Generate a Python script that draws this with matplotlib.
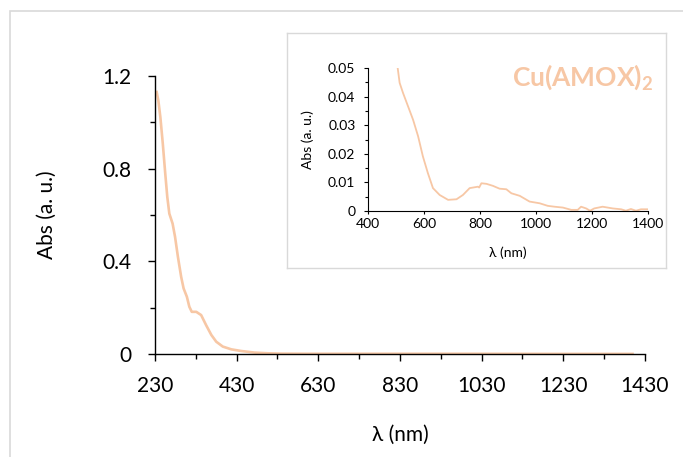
import matplotlib
matplotlib.use("Agg")
import matplotlib.pyplot as plt
from matplotlib.patches import Rectangle
from matplotlib.ticker import MultipleLocator, FuncFormatter

plt.rcParams['font.family'] = ['Lato', 'DejaVu Sans']
plt.rcParams['mathtext.fontset'] = 'custom'
plt.rcParams['mathtext.rm'] = 'Lato'
plt.rcParams['mathtext.bf'] = 'Lato:bold'

# Espectro completo
lam_main = [234, 238, 243, 249, 255, 260, 265, 273, 279, 286, 294, 300, 308,
            314, 320, 331, 343, 355, 368, 380, 396, 417, 441, 474, 507, 540,
            600, 800, 1000, 1200, 1400]
abs_main = [1.131, 1.095, 1.023, 0.908, 0.779, 0.678, 0.606, 0.563, 0.506,
            0.420, 0.333, 0.283, 0.247, 0.204, 0.182, 0.182, 0.168, 0.125,
            0.082, 0.053, 0.032, 0.020, 0.013, 0.006, 0.003, 0.0015,
            0.001, 0.001, 0.001, 0.0005, 0.0005]

# Detalle del recuadro (500-1400 nm)
lam_ins = [506, 513, 525, 543, 561, 579, 596, 614, 632, 656, 686, 716, 739,
           763, 793, 797, 805, 823, 846, 870, 894, 912, 942, 977, 1013, 1042,
           1066, 1096, 1126, 1149, 1161, 1179, 1193, 1208, 1238, 1274, 1304,
           1321, 1339, 1357, 1375, 1399]
abs_ins = [0.0500, 0.0448, 0.0413, 0.0366, 0.0319, 0.0261, 0.0191, 0.0132,
           0.0080, 0.0056, 0.0039, 0.0041, 0.0056, 0.0080, 0.0085, 0.0082,
           0.0097, 0.0095, 0.0088, 0.0078, 0.0076, 0.0062, 0.0053, 0.0033,
           0.0027, 0.0018, 0.0015, 0.0012, 0.0004, 0.0004, 0.0015, 0.0009,
           0.0001, 0.0009, 0.0015, 0.0009, 0.0006, 0.0001, 0.0007, 0.0001,
           0.0006, 0.0006]

color = '#F7C7A5'
grid_grey = '#D9D9D9'

def fmt(v, pos):
    return '0' if abs(v) < 1e-12 else f'{v:g}'

fig = plt.figure(figsize=(6.83, 4.57), dpi=100)

# borde exterior
fig.add_artist(Rectangle((10 / 683, -0.1), 1.2, (457 - 11) / 457 + 0.1,
                         transform=fig.transFigure, fill=False,
                         edgecolor=grid_grey, linewidth=1.2))

# Gráfico principal
ax = fig.add_axes([0.227, 0.2254, 0.717, 0.6083])
ax.plot(lam_main, abs_main, color=color, linewidth=1.9)
ax.set_xlim(230, 1430)
ax.set_ylim(0, 1.2)
ax.xaxis.set_major_locator(MultipleLocator(200, offset=30))
ax.xaxis.set_minor_locator(MultipleLocator(100, offset=30))
ax.yaxis.set_major_locator(MultipleLocator(0.4))
ax.yaxis.set_minor_locator(MultipleLocator(0.2))
ax.yaxis.set_major_formatter(FuncFormatter(fmt))
for s in ['top', 'right']:
    ax.spines[s].set_visible(False)
for s in ['left', 'bottom']:
    ax.spines[s].set_linewidth(1.0)
ax.tick_params(which='major', direction='out', length=4.8, width=1.0,
               labelsize=15)
ax.tick_params(axis='x', which='major', pad=11)
ax.tick_params(axis='y', which='major', pad=12)
ax.tick_params(which='minor', direction='out', length=3.6, width=1.0)
ax.set_xlabel('λ (nm)', fontsize=15, labelpad=21)
ax.set_ylabel('Abs (a. u.)', fontsize=15, labelpad=33)

# Marco del recuadro
frame = fig.add_axes([287 / 683, (457 - 268) / 457, 379 / 683, 235 / 457])
frame.set_xticks([])
frame.set_yticks([])
for s in frame.spines.values():
    s.set_edgecolor(grid_grey)
    s.set_linewidth(1.0)

# Recuadro
axi = fig.add_axes([368 / 683, (457 - 211) / 457, 280 / 683, 143 / 457])
axi.plot(lam_ins, abs_ins, color=color, linewidth=1.3)
axi.set_xlim(400, 1400)
axi.set_ylim(0, 0.05)
axi.xaxis.set_major_locator(MultipleLocator(200))
axi.yaxis.set_major_locator(MultipleLocator(0.01))
axi.yaxis.set_minor_locator(MultipleLocator(0.005))
axi.yaxis.set_major_formatter(FuncFormatter(fmt))
for s in ['top', 'right']:
    axi.spines[s].set_visible(False)
axi.tick_params(which='major', direction='out', length=3, width=0.8,
                labelsize=10)
axi.tick_params(axis='x', which='major', length=2.2, pad=2.5)
axi.tick_params(axis='y', which='major', pad=6)
axi.tick_params(which='minor', direction='out', length=2.2, width=0.8)
axi.set_xlabel('λ (nm)', fontsize=10, labelpad=12)
axi.set_ylabel('Abs (a. u.)', fontsize=10, labelpad=10)

fig.text(653 / 683, (457 - 86) / 457, r'Cu(AMOX)$_\mathbf{2}$', color=color,
         fontsize=19, fontweight='bold', ha='right', va='baseline')

fig.savefig('out.png', dpi=100)
